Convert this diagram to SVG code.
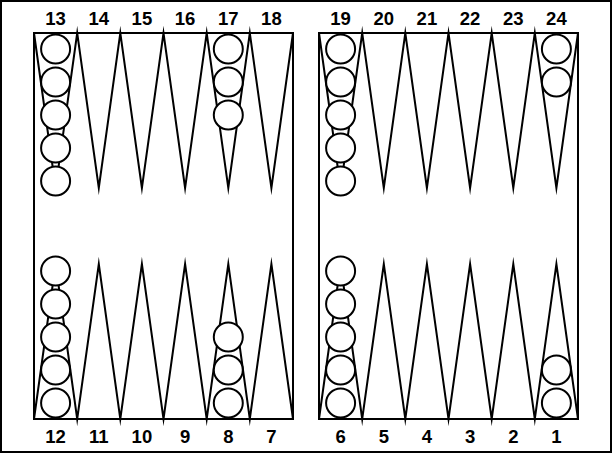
<svg xmlns="http://www.w3.org/2000/svg" width="612" height="453" viewBox="0 0 612 453">
<style>
.frame{fill:none;stroke:#000;stroke-width:2}
.pt{fill:none;stroke:#000;stroke-width:2;stroke-linejoin:miter;stroke-miterlimit:10}
.ck{fill:#fff;stroke:#000;stroke-width:2}
.lbl{font-family:"Liberation Sans Narrow","Liberation Sans",Arial,sans-serif;font-weight:bold;font-size:18.5px;text-anchor:middle;fill:#000}
</style>
<rect x="0" y="0" width="612" height="453" fill="#fff"/>
<rect class="frame" x="1" y="1" width="610" height="451"/>
<g id="board-left"><rect class="frame" x="34" y="33" width="259" height="386"/></g>
<g id="board-right"><rect class="frame" x="319" y="33" width="259" height="386"/></g>
<g id="points">
<polyline class="pt" points="34,33 55.6,188 77.2,33 98.8,188 120.3,33 141.9,188 163.5,33 185.1,188 206.7,33 228.3,188 249.8,33 271.4,188 293,33"/>
<polyline class="pt" points="34,419 55.6,264 77.2,419 98.8,264 120.3,419 141.9,264 163.5,419 185.1,264 206.7,419 228.3,264 249.8,419 271.4,264 293,419"/>
<polyline class="pt" points="319,33 340.6,188 362.2,33 383.8,188 405.3,33 426.9,188 448.5,33 470.1,188 491.7,33 513.3,188 534.8,33 556.4,188 578,33"/>
<polyline class="pt" points="319,419 340.6,264 362.2,419 383.8,264 405.3,419 426.9,264 448.5,419 470.1,264 491.7,419 513.3,264 534.8,419 556.4,264 578,419"/>
</g>
<g id="checkers-13"><circle class="ck" cx="55.6" cy="49" r="14.5"/><circle class="ck" cx="55.6" cy="82" r="14.5"/><circle class="ck" cx="55.6" cy="115" r="14.5"/><circle class="ck" cx="55.6" cy="148" r="14.5"/><circle class="ck" cx="55.6" cy="181" r="14.5"/></g>
<g id="checkers-17"><circle class="ck" cx="228.3" cy="49" r="14.5"/><circle class="ck" cx="228.3" cy="82" r="14.5"/><circle class="ck" cx="228.3" cy="115" r="14.5"/></g>
<g id="checkers-19"><circle class="ck" cx="340.6" cy="49" r="14.5"/><circle class="ck" cx="340.6" cy="82" r="14.5"/><circle class="ck" cx="340.6" cy="115" r="14.5"/><circle class="ck" cx="340.6" cy="148" r="14.5"/><circle class="ck" cx="340.6" cy="181" r="14.5"/></g>
<g id="checkers-24"><circle class="ck" cx="556.4" cy="49" r="14.5"/><circle class="ck" cx="556.4" cy="82" r="14.5"/></g>
<g id="checkers-12"><circle class="ck" cx="55.6" cy="403" r="14.5"/><circle class="ck" cx="55.6" cy="370" r="14.5"/><circle class="ck" cx="55.6" cy="337" r="14.5"/><circle class="ck" cx="55.6" cy="304" r="14.5"/><circle class="ck" cx="55.6" cy="271" r="14.5"/></g>
<g id="checkers-8"><circle class="ck" cx="228.3" cy="403" r="14.5"/><circle class="ck" cx="228.3" cy="370" r="14.5"/><circle class="ck" cx="228.3" cy="337" r="14.5"/></g>
<g id="checkers-6"><circle class="ck" cx="340.6" cy="403" r="14.5"/><circle class="ck" cx="340.6" cy="370" r="14.5"/><circle class="ck" cx="340.6" cy="337" r="14.5"/><circle class="ck" cx="340.6" cy="304" r="14.5"/><circle class="ck" cx="340.6" cy="271" r="14.5"/></g>
<g id="checkers-1"><circle class="ck" cx="556.4" cy="403" r="14.5"/><circle class="ck" cx="556.4" cy="370" r="14.5"/></g>
<g id="labels-top" class="lbl">
<text x="55.6" y="25">13</text><text x="98.8" y="25">14</text><text x="141.9" y="25">15</text><text x="185.1" y="25">16</text><text x="228.3" y="25">17</text><text x="271.4" y="25">18</text>
<text x="340.6" y="25">19</text><text x="383.8" y="25">20</text><text x="426.9" y="25">21</text><text x="470.1" y="25">22</text><text x="513.3" y="25">23</text><text x="556.4" y="25">24</text>
</g>
<g id="labels-bottom" class="lbl">
<text x="55.6" y="442.5">12</text><text x="98.8" y="442.5">11</text><text x="141.9" y="442.5">10</text><text x="185.1" y="442.5">9</text><text x="228.3" y="442.5">8</text><text x="271.4" y="442.5">7</text>
<text x="340.6" y="442.5">6</text><text x="383.8" y="442.5">5</text><text x="426.9" y="442.5">4</text><text x="470.1" y="442.5">3</text><text x="513.3" y="442.5">2</text><text x="556.4" y="442.5">1</text>
</g>
</svg>
